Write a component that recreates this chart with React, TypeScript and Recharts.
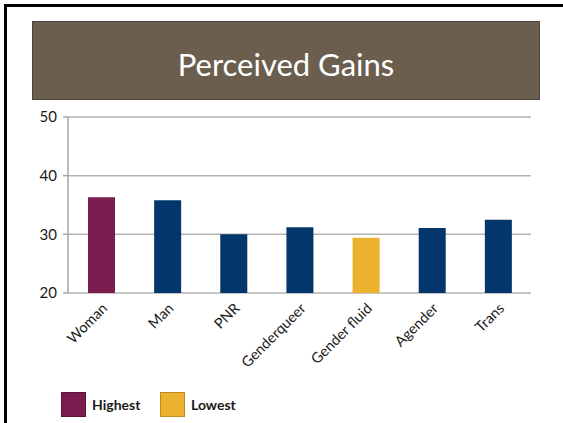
import { BarChart, Bar, XAxis, YAxis, CartesianGrid, Cell } from "recharts";

const categories = ["Woman", "Man", "PNR", "Genderqueer", "Gender fluid", "Agender", "Trans"];
const gains = [36.3, 35.8, 30.0, 31.2, 29.4, 31.1, 32.5];
const barColors = ["#7b1c4f", "#03376b", "#03376b", "#03376b", "#edb130", "#03376b", "#03376b"];
const yTicks = [20, 30, 40, 50];
const edgeTicks = [0, 1, 2, 3, 4, 5, 6, 7];
const legendLabels = ["Highest", "Lowest"];
const legendColors = ["#7b1c4f", "#edb130"];
const legendBorders = ["#5e1239", "#b98a22"];

const data = categories.map((name, i) => ({ name, gains: gains[i], idx: i + 0.5 }));

const font = "Lato, 'Open Sans', sans-serif";

export default function App() {
  return (
    <div
      style={{
        position: "absolute",
        left: 0,
        top: 0,
        width: 563,
        height: 423,
        background: "#fff",
        fontFamily: font,
        overflow: "hidden",
      }}
    >
      {/* frame */}
      <div
        style={{
          position: "absolute",
          left: 4,
          top: 4,
          right: -10,
          bottom: -10,
          borderLeft: "3px solid #000",
          borderTop: "3px solid #000",
        }}
      />
      {/* title */}
      <div
        style={{
          position: "absolute",
          left: 32,
          top: 21,
          width: 506,
          height: 71,
          background: "#6b5e4f",
          border: "1px solid #4f453a",
          color: "#fff",
          fontSize: 31,
          display: "flex",
          alignItems: "center",
          justifyContent: "center",
          paddingTop: 6,
          boxSizing: "content-box",
        }}
      >
        Perceived Gains
      </div>

      <div style={{ position: "absolute", left: 0, top: 0 }}>
        <BarChart
          width={563}
          height={423}
          data={data}
          margin={{ top: 117, right: 32, left: 0, bottom: 50 }}
        >
          <CartesianGrid xAxisId="edges" vertical={false} stroke="#b3b3b3" strokeWidth={1.5} />
          <XAxis
            xAxisId="edges"
            type="number"
            dataKey="idx"
            domain={[0, 7]}
            ticks={edgeTicks}
            allowDataOverflow
            height={0}
            stroke="#a6a6a6"
            strokeWidth={1.5}
            tickSize={6}
            tickFormatter={() => ""}
          />
          <XAxis
            xAxisId="cat"
            dataKey="name"
            height={80}
            axisLine={false}
            tickLine={false}
            interval={0}
            angle={-45}
            textAnchor="end"
            tickSize={6}
            tickMargin={3}
            tick={{ fill: "#1a1a1a", fontSize: 14.5, fontFamily: font }}
          />
          <YAxis
            domain={[20, 50]}
            ticks={yTicks}
            width={68}
            stroke="#a6a6a6"
            strokeWidth={1.5}
            tickSize={5}
            tickMargin={6}
            tick={{ fill: "#1a1a1a", fontSize: 15, fontFamily: font }}
          />
          <Bar dataKey="gains" xAxisId="cat" barSize={27} isAnimationActive={false}>
            {data.map((d, i) => (
              <Cell key={d.name} fill={barColors[i]} />
            ))}
          </Bar>
        </BarChart>
      </div>

      {/* legend */}
      {legendLabels.map((label, i) => (
        <div
          key={label}
          style={{
            position: "absolute",
            left: 61 + i * 99,
            top: 392,
            display: "flex",
            alignItems: "center",
            fontWeight: 700,
            fontSize: 14,
            color: "#1a1a1a",
          }}
        >
          <div
            style={{
              width: 23,
              height: 23,
              background: legendColors[i],
              border: `1px solid ${legendBorders[i]}`,
              marginRight: 6,
            }}
          />
          {label}
        </div>
      ))}
    </div>
  );
}
